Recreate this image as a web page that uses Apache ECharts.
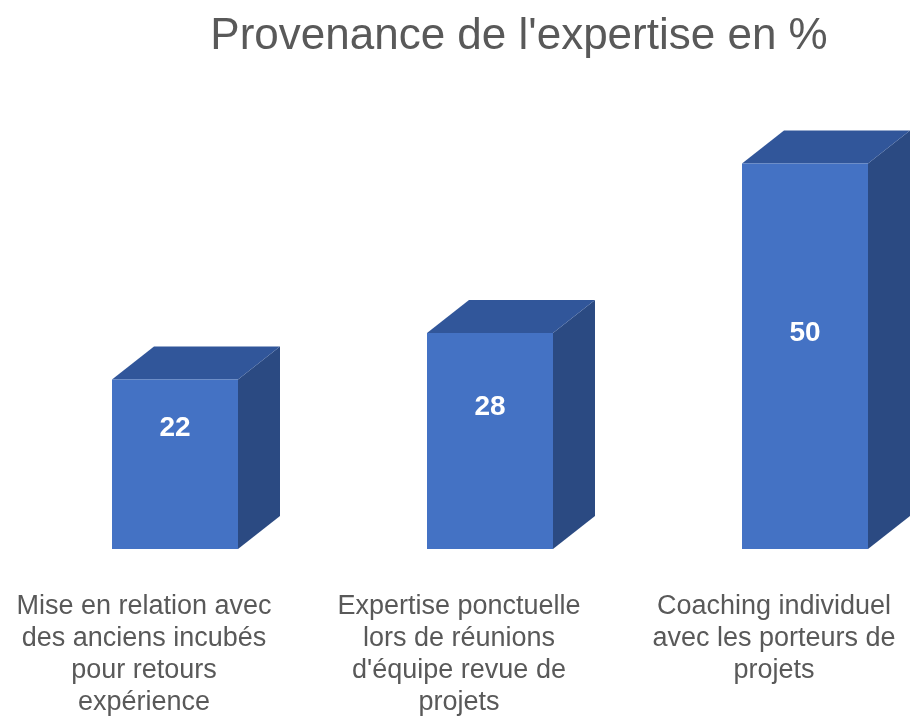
<!DOCTYPE html>
<html>
<head>
<meta charset="utf-8">
<title>Provenance de l'expertise en %</title>
<script src="https://cdn.jsdelivr.net/npm/echarts@6/dist/echarts.min.js"></script>
<style>
  html, body { margin: 0; padding: 0; background: #ffffff; }
  #chart { width: 911px; height: 718px; }
</style>
</head>
<body>
<div id="chart"></div>
<script>
// Chart data
const titleText = "Provenance de l'expertise en %";
const categories = [
  "Mise en relation avec\ndes anciens incubés\npour retours\nexpérience",
  "Expertise ponctuelle\nlors de réunions\nd'équipe revue de\nprojets",
  "Coaching individuel\navec les porteurs de\nprojets"
];
const values = [22, 28, 50];

// Box styling
const FRONT = '#4472C4';
const TOP = '#31569A';
const SIDE = '#2B4A82';
const DEPTH_X = 42;
const DEPTH_Y = -33;

const chart = echarts.init(document.getElementById('chart'), null, { renderer: 'canvas' });

function renderBox(params, api) {
  const idx = api.value(0);
  const val = api.value(1);
  const base = api.coord([idx, 0]);
  const top = api.coord([idx, val]);
  const w = api.size([1, 0])[0] * 0.4;
  const x0 = base[0] - w / 2;
  const x1 = base[0] + w / 2;
  const yTop = top[1];
  const yBase = base[1];
  // value label sits a little above the middle of the front face
  const labelPt = api.coord([idx, val * 0.44 + 6]);
  return {
    type: 'group',
    children: [
      {
        type: 'polygon',
        shape: { points: [[x1, yTop], [x1 + DEPTH_X, yTop + DEPTH_Y], [x1 + DEPTH_X, yBase + DEPTH_Y], [x1, yBase]] },
        style: { fill: SIDE }
      },
      {
        type: 'polygon',
        shape: { points: [[x0, yTop], [x0 + DEPTH_X, yTop + DEPTH_Y], [x1 + DEPTH_X, yTop + DEPTH_Y], [x1, yTop]] },
        style: { fill: TOP }
      },
      {
        type: 'rect',
        shape: { x: x0, y: yTop, width: w, height: yBase - yTop },
        style: { fill: FRONT }
      },
      {
        type: 'text',
        x: base[0],
        y: labelPt[1],
        style: {
          text: String(val),
          fill: '#ffffff',
          font: 'bold 28px "Liberation Sans", Arial, sans-serif',
          align: 'center',
          verticalAlign: 'middle'
        }
      }
    ]
  };
}

chart.setOption({
  animation: false,
  backgroundColor: '#ffffff',
  title: {
    text: titleText,
    left: 514,
    textAlign: 'center',
    top: 10,
    textStyle: {
      fontFamily: '"Liberation Sans", Arial, sans-serif',
      fontSize: 44,
      fontWeight: 'normal',
      color: '#595959'
    }
  },
  grid: { left: 17.5, width: 945, top: 86.4, height: 462.6, outerBoundsMode: 'none', containLabel: false },
  xAxis: {
    type: 'category',
    data: categories,
    axisLine: { show: false },
    axisTick: { show: false },
    axisLabel: {
      interval: 0,
      margin: 42,
      padding: [0, 62, 0, 0],
      fontFamily: '"Liberation Sans", Arial, sans-serif',
      fontSize: 27,
      lineHeight: 32,
      color: '#595959',
      align: 'center'
    }
  },
  yAxis: {
    type: 'value',
    min: 0,
    max: 60,
    show: false,
    splitLine: { show: false }
  },
  series: [{
    type: 'custom',
    renderItem: renderBox,
    data: values.map((v, i) => [i, v]),
    clip: false
  }]
});
</script>
</body>
</html>
